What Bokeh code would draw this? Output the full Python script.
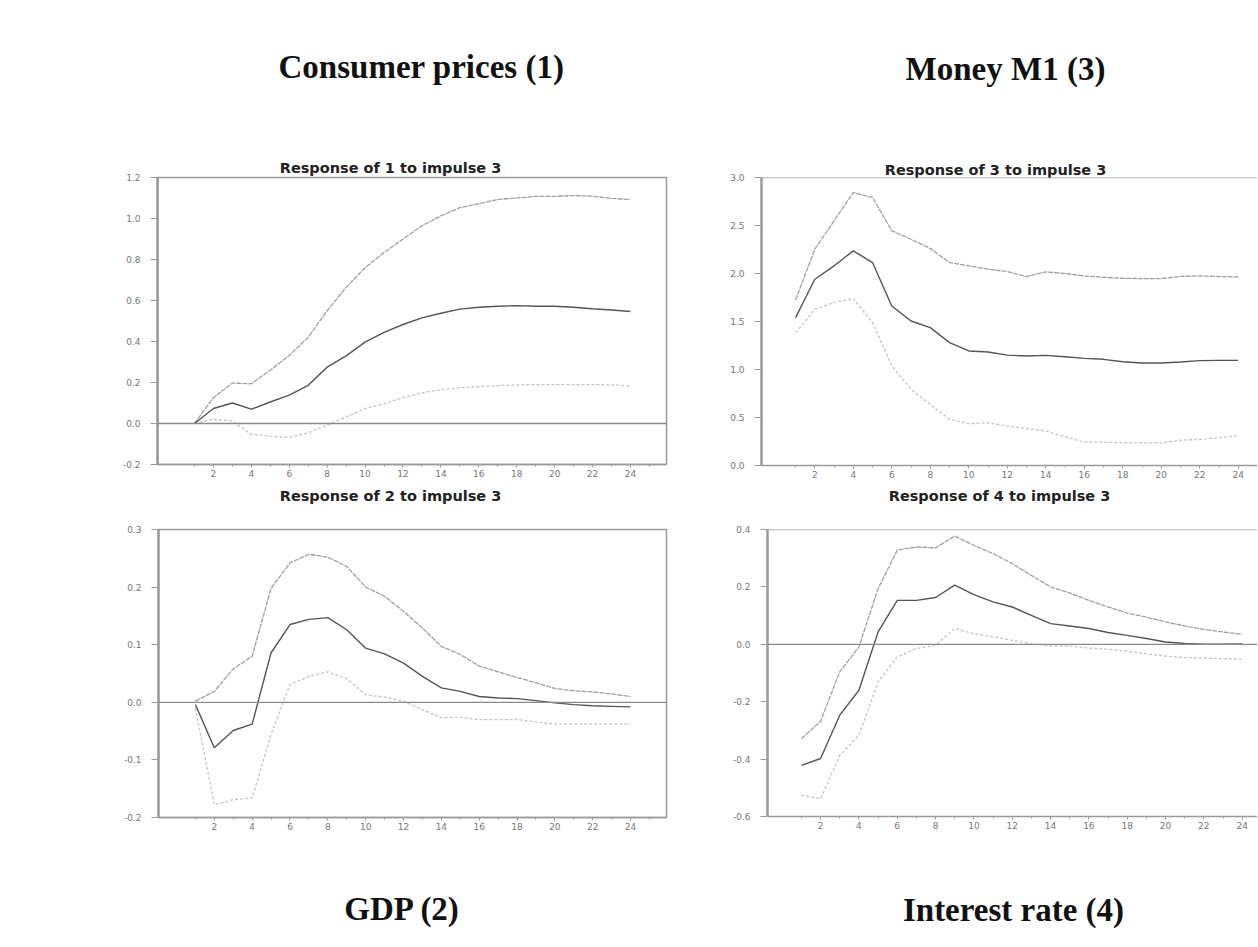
from bokeh.plotting import figure
from bokeh.models import Span, FixedTicker, NumeralTickFormatter, Range1d, LinearAxis
from bokeh.layouts import column, row
from bokeh.embed import file_html
from bokeh.resources import INLINE

# ---------------- data ----------------
STEPS = list(range(1, 25))
X_TICKS = list(range(2, 25, 2))
X_MINOR = list(range(1, 26, 2))

# Response of 1 (consumer prices) to impulse 3
CPI_MID = [0.0, 0.073, 0.10, 0.07, 0.105, 0.138, 0.186, 0.275, 0.33, 0.397, 0.445, 0.483,
           0.515, 0.538, 0.558, 0.567, 0.572, 0.575, 0.572, 0.572, 0.567, 0.56, 0.554, 0.546]
CPI_UP = [0.0, 0.126, 0.197, 0.194, 0.26, 0.332, 0.42, 0.55, 0.664, 0.76, 0.834, 0.90,
          0.964, 1.013, 1.053, 1.072, 1.093, 1.10, 1.108, 1.108, 1.112, 1.109, 1.098, 1.093]
CPI_LO = [0.0, 0.021, 0.013, -0.053, -0.062, -0.068, -0.045, -0.008, 0.032, 0.073, 0.097, 0.126,
          0.15, 0.165, 0.175, 0.18, 0.185, 0.188, 0.19, 0.19, 0.19, 0.19, 0.188, 0.183]
CPI_Y_TICKS = [-0.2, 0.0, 0.2, 0.4, 0.6, 0.8, 1.0, 1.2]

# Response of 3 (money M1) to impulse 3
M1_MID = [1.54, 1.94, 2.08, 2.236, 2.114, 1.662, 1.505, 1.436, 1.28, 1.193, 1.182, 1.15,
          1.14, 1.147, 1.133, 1.116, 1.106, 1.081, 1.067, 1.067, 1.078, 1.092, 1.095, 1.095]
M1_UP = [1.725, 2.253, 2.549, 2.844, 2.792, 2.444, 2.357, 2.26, 2.114, 2.08, 2.045, 2.02,
         1.968, 2.017, 2.0, 1.975, 1.961, 1.95, 1.947, 1.947, 1.97, 1.975, 1.968, 1.965]
M1_LO = [1.384, 1.627, 1.697, 1.738, 1.488, 1.036, 0.793, 0.636, 0.48, 0.435, 0.445, 0.41,
         0.386, 0.358, 0.30, 0.243, 0.243, 0.236, 0.236, 0.236, 0.264, 0.271, 0.289, 0.313]
M1_Y_TICKS = [0.0, 0.5, 1.0, 1.5, 2.0, 2.5, 3.0]

# Response of 2 (GDP) to impulse 3
GDP_MID = [-0.004, -0.079, -0.049, -0.038, 0.086, 0.135, 0.144, 0.147, 0.126, 0.094, 0.084, 0.068,
           0.045, 0.025, 0.019, 0.010, 0.0075, 0.0064, 0.003, -0.001, -0.004, -0.006, -0.007, -0.008]
GDP_UP = [0.002, 0.019, 0.058, 0.08, 0.198, 0.242, 0.257, 0.252, 0.236, 0.2, 0.184, 0.158,
          0.129, 0.097, 0.083, 0.063, 0.053, 0.043, 0.034, 0.024, 0.02, 0.018, 0.0145, 0.010]
GDP_LO = [-0.01, -0.178, -0.169, -0.166, -0.056, 0.031, 0.045, 0.053, 0.041, 0.013, 0.009, 0.002,
          -0.013, -0.027, -0.026, -0.03, -0.03, -0.03, -0.034, -0.038, -0.038, -0.038, -0.038, -0.038]
GDP_Y_TICKS = [-0.2, -0.1, 0.0, 0.1, 0.2, 0.3]

# Response of 4 (interest rate) to impulse 3
IR_MID = [-0.422, -0.398, -0.247, -0.16, 0.043, 0.153, 0.153, 0.163, 0.206, 0.173, 0.148, 0.13,
          0.101, 0.072, 0.064, 0.055, 0.041, 0.031, 0.02, 0.008, 0.003, 0.0, 0.0, 0.001]
IR_UP = [-0.329, -0.268, -0.096, -0.009, 0.194, 0.328, 0.339, 0.336, 0.377, 0.345, 0.316, 0.281,
         0.24, 0.2, 0.179, 0.153, 0.13, 0.109, 0.095, 0.078, 0.064, 0.052, 0.043, 0.035]
IR_LO = [-0.526, -0.538, -0.387, -0.317, -0.131, -0.044, -0.015, -0.003, 0.055, 0.037, 0.026, 0.014,
         0.002, -0.006, -0.006, -0.013, -0.017, -0.024, -0.033, -0.041, -0.046, -0.048, -0.05, -0.052]
IR_Y_TICKS = [-0.6, -0.4, -0.2, 0.0, 0.2, 0.4]

# ---------------- styling ----------------
AXIS_COL = "#9a9a9a"
TXT_COL = "#777777"
MID_COL = "#555555"
UP_COL = "#a0a0a0"
LO_COL = "#c4c4c4"


def title_axis(p, side, text, center_off, frame_w, x_rng, font, size, color, standoff):
    """A tick-less axis carrying a single label used as a heading."""
    xc = round(x_rng[0] + center_off * (x_rng[1] - x_rng[0]) / frame_w, 4)
    ax = LinearAxis(ticker=FixedTicker(ticks=[xc], minor_ticks=[]),
                    major_label_overrides={xc: text})
    ax.axis_line_color = None
    ax.major_tick_line_color = None
    ax.minor_tick_line_color = None
    ax.major_tick_in = 0
    ax.major_tick_out = 0
    ax.minor_tick_in = 0
    ax.minor_tick_out = 0
    ax.major_label_standoff = standoff
    ax.major_label_text_font = font
    ax.major_label_text_font_style = "bold"
    ax.major_label_text_font_size = size
    ax.major_label_text_color = color
    p.add_layout(ax, side)


def panel(small_title, big_title, big_side, mid, up, lo, y_ticks, x_rng, y_rng,
          frame_w, frame_h, borders, small_c, small_stand, big_c, big_stand, closed):
    bl, br, bt, bb = borders
    p = figure(frame_width=frame_w, frame_height=frame_h,
               min_border_left=bl, min_border_right=br,
               min_border_top=bt, min_border_bottom=bb,
               x_range=Range1d(*x_rng), y_range=Range1d(*y_rng),
               toolbar_location=None, output_backend="svg", title=None)
    p.background_fill_color = "white"
    p.border_fill_color = "white"
    p.grid.visible = False
    if closed:
        p.outline_line_color = AXIS_COL
        p.outline_line_width = 1.5
    else:
        p.outline_line_color = None
        p.add_layout(Span(location=y_rng[1], dimension="width",
                          line_color=AXIS_COL, line_width=1.5))

    xa = p.xaxis[0]
    xa.ticker = FixedTicker(ticks=X_TICKS, minor_ticks=X_MINOR)
    xa.axis_line_color = AXIS_COL
    xa.axis_line_width = 1.5
    xa.major_tick_line_color = AXIS_COL
    xa.major_tick_in = 0
    xa.major_tick_out = 3
    xa.minor_tick_line_color = AXIS_COL
    xa.minor_tick_in = 0
    xa.minor_tick_out = 2
    xa.major_label_text_font = "DejaVu Sans"
    xa.major_label_text_font_size = "9px"
    xa.major_label_text_color = TXT_COL
    xa.major_label_standoff = 2

    ya = p.yaxis[0]
    ya.ticker = FixedTicker(ticks=y_ticks, minor_ticks=[])
    ya.formatter = NumeralTickFormatter(format="0.0")
    ya.axis_line_color = AXIS_COL
    ya.axis_line_width = 2.5
    ya.major_tick_line_color = AXIS_COL
    ya.major_tick_in = 0
    ya.major_tick_out = 7
    ya.minor_tick_line_color = None
    ya.major_label_text_font = "DejaVu Sans"
    ya.major_label_text_font_size = "9px"
    ya.major_label_text_color = TXT_COL
    ya.major_label_standoff = 10

    # headings: the panel title just above the frame, the variable name further out
    title_axis(p, "above", small_title, small_c, frame_w, x_rng,
               "DejaVu Sans", "14.5px", "#222222", small_stand)
    title_axis(p, big_side, big_title, big_c, frame_w, x_rng,
               "Liberation Serif", "33px", "#111111", big_stand)

    if y_rng[0] < 0:
        p.add_layout(Span(location=0, dimension="width", line_color="#8a8a8a", line_width=1.3))

    p.line(STEPS, up, line_color=UP_COL, line_width=1.3, line_dash="5 1")
    p.line(STEPS, lo, line_color=LO_COL, line_width=1.3, line_dash="3 2")
    p.line(STEPS, mid, line_color=MID_COL, line_width=1.4)
    return p


# borders = (left, right, top, bottom); the written page has no body margin
tl = panel("Response of 1 to impulse 3", "Consumer prices (1)", "above",
           CPI_MID, CPI_UP, CPI_LO, CPI_Y_TICKS, (-0.95, 25.9), (-0.2, 1.2),
           509, 287, (157, 30, 177, 20), 233, 2, 264, 72, True)
tr = panel("Response of 3 to impulse 3", "Money M1 (3)", "above",
           M1_MID, M1_UP, M1_LO, M1_Y_TICKS, (-0.77, 25.0), (0.0, 3.0),
           496, 288, (65, 0, 175, 21), 234, 0, 244, 72, False)
bl = panel("Response of 2 to impulse 3", "GDP (2)", "below",
           GDP_MID, GDP_UP, GDP_LO, GDP_Y_TICKS, (-0.95, 25.9), (-0.2, 0.3),
           508, 288, (158, 30, 44, 119), 232, 26, 244, 58, True)
br = panel("Response of 4 to impulse 3", "Interest rate (4)", "below",
           IR_MID, IR_UP, IR_LO, IR_Y_TICKS, (-0.77, 24.8), (-0.6, 0.4),
           490, 287, (71, 0, 43, 121), 232, 26, 246, 60, False)

layout = column(row(tl, tr), row(bl, br))
open("out.html", "w").write(file_html(layout, INLINE))
